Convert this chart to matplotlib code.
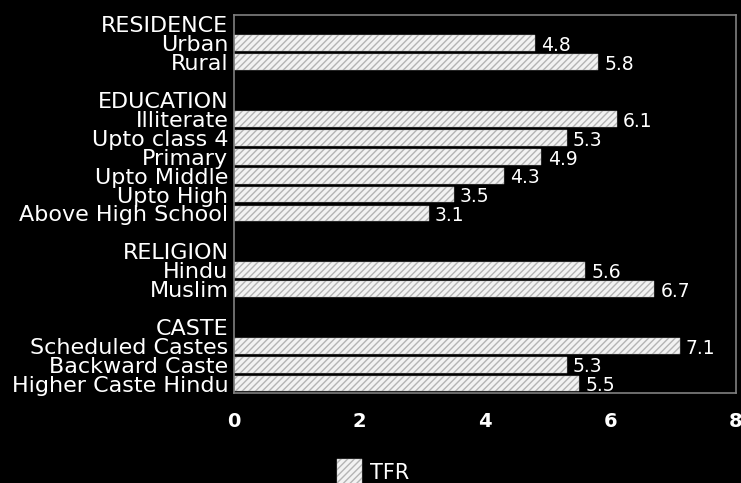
import matplotlib.pyplot as plt

# TFR by background characteristic
groups = ["RESIDENCE", "EDUCATION", "RELIGION", "CASTE"]
residence = ["Urban", "Rural"]
residence_tfr = [4.8, 5.8]
education = ["Illiterate", "Upto class 4", "Primary", "Upto Middle",
             "Upto High", "Above High School"]
education_tfr = [6.1, 5.3, 4.9, 4.3, 3.5, 3.1]
religion = ["Hindu", "Muslim"]
religion_tfr = [5.6, 6.7]
caste = ["Scheduled Castes", "Backward Caste", "Higher Caste Hindu"]
caste_tfr = [7.1, 5.3, 5.5]
xticks = [0, 2, 4, 6, 8]

# lay out rows: group header, its categories, then a blank spacer row
rows = []
bar_pos, bar_val = [], []
for g, (cats, vals) in zip(groups, [(residence, residence_tfr),
                                    (education, education_tfr),
                                    (religion, religion_tfr),
                                    (caste, caste_tfr)]):
    if rows:
        rows.append("")
    rows.append(g)
    for c, v in zip(cats, vals):
        bar_pos.append(len(rows))
        bar_val.append(v)
        rows.append(c)

fig = plt.figure(figsize=(7.41, 4.83), dpi=100, facecolor="black")
ax = fig.add_axes([234 / 741, 1 - 393 / 483, 502 / 741, 378 / 483])
ax.set_facecolor("black")

plt.rcParams["hatch.linewidth"] = 1.0
bars = ax.barh(bar_pos, bar_val, height=0.84, color="#f2f2f2",
               edgecolor="#b4b4b4", linewidth=0.3, hatch="/////", label="TFR")

for y, v in zip(bar_pos, bar_val):
    ax.text(v + 0.1, y + 0.12, f"{v:.1f}", color="white", fontsize=13.5,
            va="center", ha="left")

ax.set_xlim(0, 8)
ax.set_ylim(len(rows) - 0.5, -0.5)
ax.set_yticks(range(len(rows)))
ax.set_yticklabels(rows, fontsize=16, color="white")
ax.set_xticks(xticks)
ax.set_xticklabels([str(t) for t in xticks], fontsize=14, fontweight="bold",
                   color="white")
ax.tick_params(axis="y", length=0, pad=4)
ax.tick_params(axis="x", length=0, pad=14)
for s in ax.spines.values():
    s.set_color("#808080")
    s.set_linewidth(1.2)

fig.legend(handles=[bars], labels=["TFR"], loc="center left",
           bbox_to_anchor=(322 / 741, 1 - 472 / 483), frameon=False,
           fontsize=15, labelcolor="white", handlelength=1.2,
           handleheight=1.6, handletextpad=0.4, borderpad=0.2)

fig.savefig("out.png", dpi=100, facecolor="black")
